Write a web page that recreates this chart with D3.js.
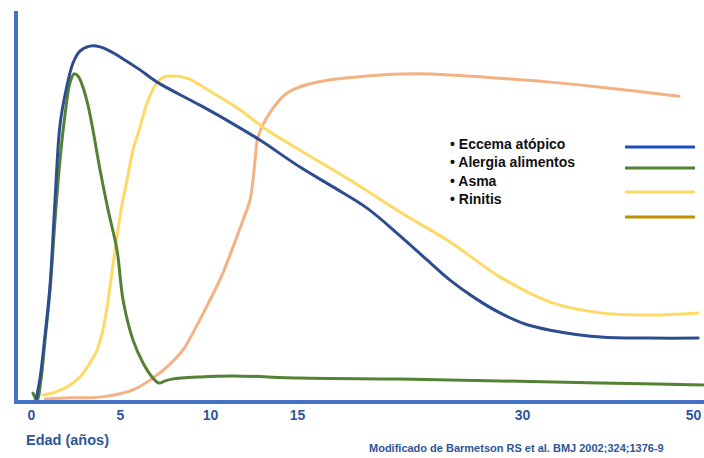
<!DOCTYPE html>
<html>
<head>
<meta charset="utf-8">
<script src="https://cdn.jsdelivr.net/npm/d3@7"></script>
<style>
  html, body { margin: 0; padding: 0; background: #fff; }
  svg { display: block; font-family: "Liberation Sans", Arial, sans-serif; }
</style>
</head>
<body>
<svg id="chart" width="704" height="458"></svg>
<script>
// ---- data (age in years, relative prevalence level 0-100) ----
const xTicks = [0, 5, 10, 15, 30, 50];
const xLabel = "Edad (años)";
const citation = "Modificado de Barmetson RS et al. BMJ 2002;324;1376-9";
const seriesNames = ["Eccema atópico", "Alergia alimentos", "Asma", "Rinitis"];
const curveColors = ["#2E4D8E", "#548235", "#FFD966", "#F4B183"];
const legendColors = ["#1F4BC4", "#548235", "#FFD966", "#BF9000"];

const eccema = [[0.28,0],[0.51,6.1],[0.79,18.1],[1.07,31.9],[1.35,55.6],[1.63,76.4],[1.97,86.1],[2.36,93.6],[2.75,96.9],[3.31,98.3],[3.88,98.1],[4.44,96.9],[5.0,95.3],[6.11,91.7],[7.06,88.3],[9.44,81.9],[11.15,77.2],[12.87,72.2],[15.2,64.7],[17.4,59.2],[19.67,53.3],[21.87,45.6],[23.67,38.9],[25.2,33.3],[26.87,28.3],[28.53,24.2],[30.35,21.1],[33.3,19.4],[39.2,17.5],[45.06,17.2],[50.6,17.2]];
const alergia = [[0.11,1.9],[0.34,0],[0.56,5.6],[0.79,16.7],[1.07,30.6],[1.35,50],[1.63,66.7],[1.91,79.2],[2.19,88.1],[2.42,90.6],[2.64,90],[2.92,86.9],[3.2,81.9],[3.48,75],[3.88,63.9],[4.33,52.8],[4.83,41.7],[5.17,27.8],[5.72,16.7],[6.28,10.3],[6.83,6.1],[7.17,4.7],[7.5,5.3],[7.89,5.8],[9.44,6.4],[11.32,6.7],[15.2,6.1],[21.87,5.8],[28.53,5.3],[39.2,4.7],[51.3,4.2]];
const asma = [[0.67,1.4],[1.35,2.2],[2.02,3.6],[2.75,6.4],[3.31,10.3],[3.71,13.9],[4.04,19.4],[4.33,27.8],[4.72,41.7],[5.06,52.8],[5.39,61.1],[5.72,69.4],[6.11,75.8],[6.56,83.3],[7.06,88.1],[7.44,89.7],[7.89,90],[8.72,89.4],[9.44,87.5],[10.17,85.3],[11.72,80.6],[13.28,75],[15.2,69.4],[18.53,61.1],[21.87,52.2],[25.2,43.9],[28.53,34.2],[33.3,27.2],[39.2,24.2],[45.06,23.6],[50.6,24.2]];
const rinitis = [[0.79,0.3],[2.19,0.6],[3.88,0.8],[5.72,2.8],[6.83,6.1],[7.72,9.7],[8.5,13.9],[9.28,20.8],[10,27.8],[10.69,34.7],[11.26,41.7],[11.9,50],[12.3,55.6],[12.47,61.1],[12.59,66.7],[12.76,73.1],[13.28,78.6],[14.43,85.3],[16.33,88.3],[19.67,90],[23,90.6],[25.2,90.3],[28.53,89.4],[33.3,88.3],[39.2,86.9],[48.35,84.4]];
const seriesData = [eccema, alergia, asma, rinitis];

// ---- layout ----
const svg = d3.select("#chart");
const axisColor = "#4472C4";
const textBlue = "#2F5597";

const x = d3.scaleLinear().domain(xTicks).range([31, 120, 210, 297, 522, 693]);
const y = d3.scaleLinear().domain([0, 100]).range([400, 40]);

// curves (draw order: rinitis, asma, alergia, eccema on top)
const line = d3.line().x(d => x(d[0])).y(d => y(d[1])).curve(d3.curveCatmullRom.alpha(0.5));
const order = [3, 2, 1, 0];
svg.append("g").selectAll("path").data(order).join("path")
  .attr("d", i => line(seriesData[i]))
  .attr("fill", "none")
  .attr("stroke", i => curveColors[i])
  .attr("stroke-width", 3)
  .attr("stroke-linecap", "round")
  .attr("stroke-linejoin", "round");

// axes frame
svg.append("line").attr("x1", 16).attr("x2", 16).attr("y1", 11).attr("y2", 404)
  .attr("stroke", axisColor).attr("stroke-width", 4);
svg.append("line").attr("x1", 14).attr("x2", 704).attr("y1", 402).attr("y2", 402)
  .attr("stroke", axisColor).attr("stroke-width", 4);

// x axis labels
const xAxis = d3.axisBottom(x).tickValues(xTicks).tickSize(0).tickPadding(8).tickFormat(d3.format("d"));
const gx = svg.append("g").attr("transform", "translate(0,402)").call(xAxis);
gx.select(".domain").remove();
gx.selectAll("text")
  .attr("fill", textBlue)
  .style("font-size", "14px")
  .style("font-weight", "bold")
  .style("font-family", "'Liberation Sans', Arial, sans-serif");

svg.append("text").attr("x", 26).attr("y", 445)
  .attr("fill", textBlue).style("font-size", "14.5px").style("font-weight", "bold")
  .text(xLabel);

svg.append("text").attr("x", 369).attr("y", 452)
  .attr("fill", textBlue).style("font-size", "11px").style("font-weight", "bold")
  .text(citation);

// legend
const legendY = [149, 167, 186, 204];
const lineY = [147, 168, 192, 217];
const lg = svg.append("g");
lg.selectAll("text").data(seriesNames).join("text")
  .attr("x", 450).attr("y", (d, i) => legendY[i])
  .attr("fill", "#111").style("font-size", "14px").style("font-weight", "bold")
  .text(d => "\u2022 " + d);
lg.selectAll("line").data(seriesNames).join("line")
  .attr("x1", 625).attr("x2", 695)
  .attr("y1", (d, i) => lineY[i]).attr("y2", (d, i) => lineY[i])
  .attr("stroke", (d, i) => legendColors[i]).attr("stroke-width", 3);
</script>
</body>
</html>
